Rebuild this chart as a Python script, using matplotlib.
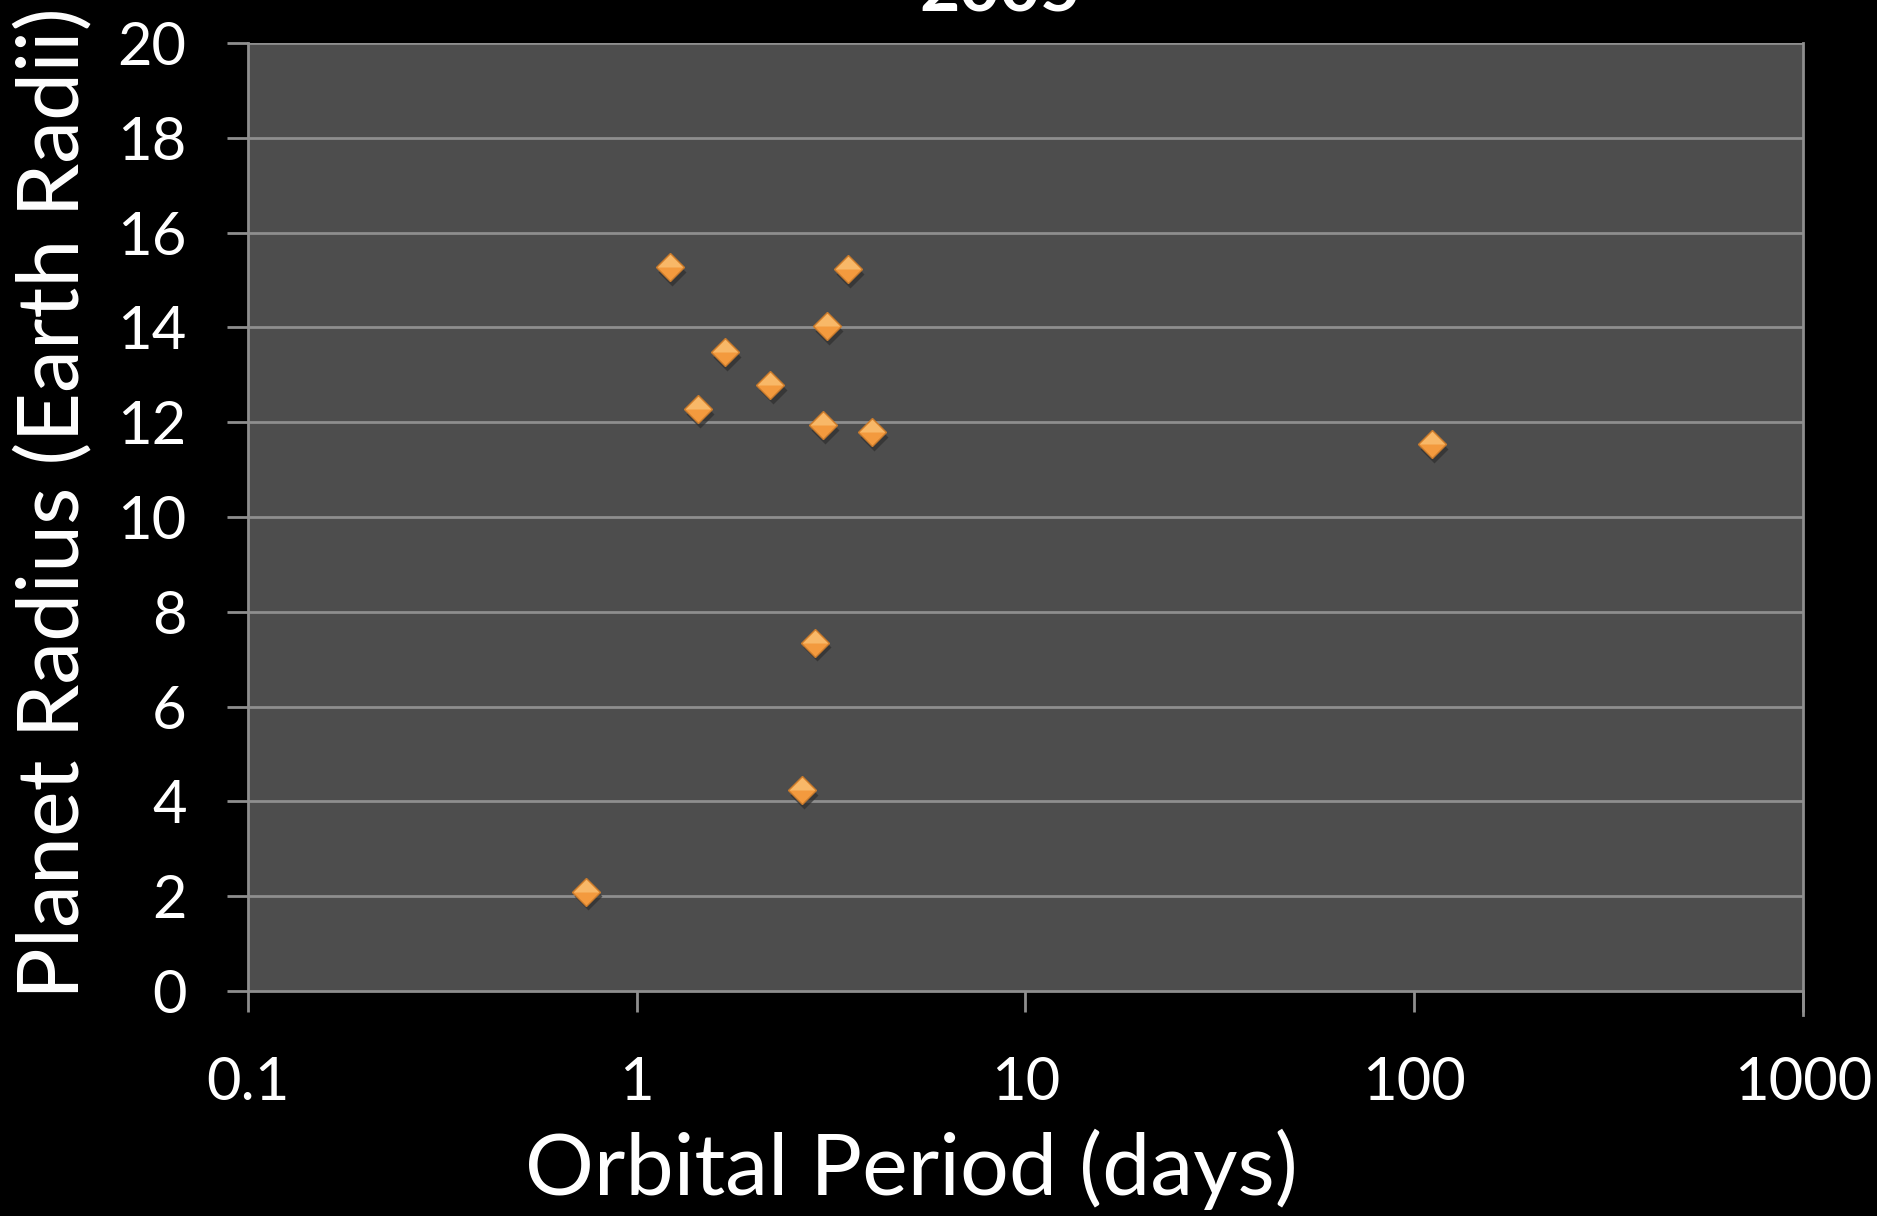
import matplotlib.pyplot as plt
import numpy as np

plt.rcParams['font.family'] = ['Lato', 'DejaVu Sans']

# data
period = [0.74, 1.22, 1.44, 1.69, 2.21, 2.66, 2.87, 3.02, 3.09, 3.50, 4.04, 111.0]
radius = [2.1, 15.28, 12.27, 13.48, 12.78, 4.24, 7.35, 11.94, 14.02, 15.23, 11.79, 11.54]
xticks = [0.1, 1, 10, 100, 1000]
xtick_labels = ["0.1", "1", "10", "100", "1000"]
yticks = list(range(0, 21, 2))

fig = plt.figure(figsize=(18.77, 12.16), dpi=100, facecolor='black')
ax = fig.add_axes([0.132, 0.185, 0.8286, 0.7796])
ax.set_facecolor('#4d4d4d')

ax.set_xscale('log')
ax.set_xlim(0.1, 1000)
ax.set_ylim(0, 20)

grid_c = '#8e8e8e'
for y in yticks[1:]:
    ax.axhline(y, color=grid_c, lw=2, zorder=1)

for s in ['top', 'right']:
    ax.spines[s].set_visible(False)
ax.spines['left'].set_color(grid_c)
ax.spines['bottom'].set_color(grid_c)
ax.spines['left'].set_linewidth(2)
ax.spines['bottom'].set_linewidth(2)
ax.axvline(1000, ymin=-0.025, ymax=1, color=grid_c, lw=2, clip_on=False, zorder=1)

ax.set_xticks(xticks)
ax.set_xticklabels(xtick_labels)
ax.xaxis.set_minor_locator(plt.NullLocator())
ax.set_yticks(yticks)
ax.tick_params(axis='both', colors=grid_c, labelcolor='white', labelsize=43,
               length=15, width=2, direction='out')
ax.tick_params(axis='x', pad=32)
ax.tick_params(axis='y', pad=29)

# markers: shadow, body, lighter top half
ms = 14
px, py = np.array(period), np.array(radius)
ax.plot(px * 1.012, py - 0.1, 'D', ms=ms, color='#2e2e2e', alpha=0.7, mec='none', zorder=3)
ax.plot(px, py, 'D', ms=ms, mfc='#f39a3e', mec='#c87a2c', mew=1, zorder=4)
top = [(-1, 0), (0, 1), (1, 0), (-1, 0)]
ax.plot(px, py, marker=top, ls='none', ms=ms * 1.3, mfc='#f8b868', mec='none', zorder=5)

ax.set_xlabel("Orbital Period (days)", color='white', fontsize=62, va='center')
ax.xaxis.set_label_coords(0.4264, -0.1878)
ax.set_ylabel("Planet Radius (Earth Radii)", color='white', fontsize=62, va='center')
ax.yaxis.set_label_coords(-0.1248, 0.515)

fig.text(0.533, 1 - 12 / 1216, "2005", color='white', fontsize=50, fontweight='bold',
         ha='center', va='baseline')

fig.savefig('out.png', dpi=100, facecolor='black')
